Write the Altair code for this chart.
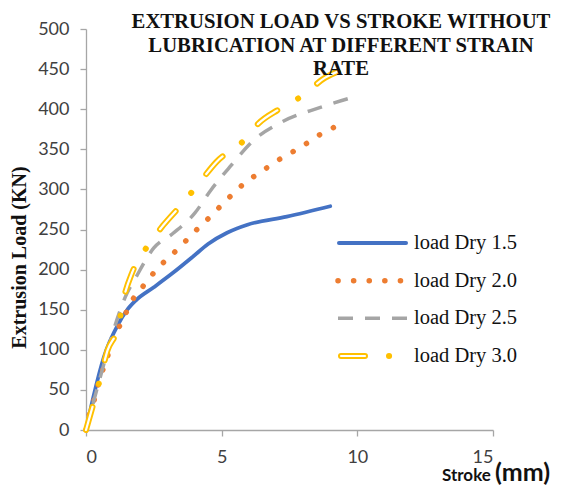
import altair as alt
import pandas as pd

# ---------------- data ----------------
series_names = ["load Dry 1.5", "load Dry 2.0", "load Dry 2.5", "load Dry 3.0"]

dry15_x = [0, 0.27, 0.66, 1.19, 1.5, 1.85, 2.5, 3.17, 3.9, 4.5, 5.2, 5.95, 7.4, 9.0]
dry15_y = [0, 41, 91, 132, 149, 162, 178, 195, 215, 232, 246, 256, 266, 279]

dry20_x = [0, 0.13, 0.29, 0.44, 0.6, 0.78, 0.94, 1.17, 1.43, 1.69, 2.01, 2.35, 2.74, 3.11,
           3.52, 3.9, 4.31, 4.72, 5.1, 5.49, 5.92, 6.37, 6.84, 7.3, 7.78, 8.25, 8.7, 9.25]
dry20_y = [0, 20, 36, 55, 73, 90, 109, 125, 143, 161, 175, 190, 205, 217,
           230, 244, 257, 271, 284, 297, 310, 320, 331, 341, 350, 360, 370, 379]

dry25_x = [0, 0.3, 0.6, 1.05, 1.45, 1.85, 2.5, 3.2, 4.0, 4.6, 5.3, 6.2, 7.1, 8.7, 9.85]
dry25_y = [0, 38, 75, 128, 166, 191, 227, 245, 270, 299, 328, 362, 382, 403, 415]

dry30_x = [0, 0.25, 0.53, 0.79, 1.19, 1.39, 1.71, 2.24, 2.84, 3.57, 4.17, 4.80, 5.85, 6.35,
           7.12, 7.94, 8.8, 9.72]
dry30_y = [0, 30, 65, 99, 129, 164, 197, 228, 255, 283, 308, 334, 362, 382,
           400, 416, 439, 452]

x_ticks = [0, 5, 10, 15]
y_ticks = [0, 50, 100, 150, 200, 250, 300, 350, 400, 450, 500]

title_lines = ["EXTRUSION LOAD VS STROKE WITHOUT",
               "LUBRICATION AT DIFFERENT STRAIN",
               "RATE"]

# ---------------- tables ----------------
rows = []
for name, xs, ys in zip(series_names,
                        [dry15_x, dry20_x, dry25_x, dry30_x],
                        [dry15_y, dry20_y, dry25_y, dry30_y]):
    for i, (xv, yv) in enumerate(zip(xs, ys)):
        rows.append({"series": name, "stroke": xv, "load": yv, "i": i})
df = pd.DataFrame(rows)
leg_df = pd.DataFrame({"label": series_names})

BLUE, ORANGE, GRAY, YELLOW = "#4472C4", "#ED7D31", "#A5A5A5", "#FFC000"
AXIS_COLOR = "#A6A6A6"
LABEL_FONT = "Lato"
SERIF = "Liberation Serif"

xscale = alt.Scale(domain=[0, 15], nice=False)
yscale = alt.Scale(domain=[0, 500], nice=False)

x_enc = alt.X("stroke:Q", scale=xscale,
              axis=alt.Axis(values=x_ticks, title=None, grid=False,
                            labelFont=LABEL_FONT, labelFontSize=18, labelColor="#404040",
                            labelPadding=12, tickSize=6, domainColor=AXIS_COLOR,
                            tickColor=AXIS_COLOR, domainWidth=1.3, tickWidth=1.3))
y_enc = alt.Y("load:Q", scale=yscale,
              axis=alt.Axis(values=y_ticks, title="Extrusion Load (KN)", grid=False,
                            labelFont=LABEL_FONT, labelFontSize=18, labelColor="#404040",
                            labelPadding=11, tickSize=6, domainColor=AXIS_COLOR,
                            tickColor=AXIS_COLOR, domainWidth=1.3, tickWidth=1.3,
                            titleFont=SERIF, titleFontSize=20, titleFontWeight="bold",
                            titleColor="#111111", titleAngle=270, titleAlign="center",
                            titleBaseline="middle", titleX=-67, titleY=228))

base = alt.Chart(df)


def series_line(name, color, width, dash=None, cap="butt"):
    kw = dict(interpolate="monotone", color=color, strokeWidth=width, strokeCap=cap)
    if dash is not None:
        kw["strokeDash"] = dash
    ch = base.transform_filter(alt.datum.series == name).mark_line(**kw)
    return ch.encode(x=x_enc, y=y_enc, order="i:Q")


l15 = series_line(series_names[0], BLUE, 3.8, cap="round")
l20 = series_line(series_names[1], ORANGE, 5.5, dash=[0.1, 15.5], cap="round")
l25 = series_line(series_names[2], GRAY, 3.5, dash=[15, 12])
l30a = series_line(series_names[3], YELLOW, 6, dash=[24, 24, 0.1, 24], cap="round")
l30b = series_line(series_names[3], "white", 2.2, dash=[24, 48.1], cap="round")

data_layer = alt.layer(l15, l20, l25, l30a, l30b)

# ---------------- legend (its own point scale for rows) ----------------
leg_y = alt.Y("label:N", scale=alt.Scale(type="point", domain=series_names,
                                         range=[214, 327], padding=0), axis=None)
leg_base = alt.Chart(leg_df)


def leg_rule(name, x1, x2, color, width, dash=None, cap="butt"):
    kw = dict(color=color, strokeWidth=width, strokeCap=cap)
    if dash is not None:
        kw["strokeDash"] = dash
    return leg_base.transform_filter(alt.datum.label == name).mark_rule(**kw).encode(
        x=alt.value(x1), x2=alt.value(x2), y=leg_y)


leg = alt.layer(
    leg_rule(series_names[0], 253, 320, BLUE, 4, cap="round"),
    leg_rule(series_names[1], 252, 316, ORANGE, 5.5, dash=[0.1, 15.5], cap="round"),
    leg_rule(series_names[2], 252, 321, GRAY, 3.5, dash=[15, 12]),
    leg_rule(series_names[3], 255, 308, YELLOW, 6, dash=[24, 24, 0.1, 24], cap="round"),
    leg_rule(series_names[3], 255, 308, "white", 2.2, dash=[24, 48.1], cap="round"),
    leg_base.mark_text(align="left", baseline="middle", font=SERIF, fontSize=20.5,
                       color="#111111").encode(x=alt.value(328), y=leg_y, text="label:N"),
)

# ---------------- texts ----------------
title_text = alt.Chart(leg_df.head(1)).mark_text(
    align="center", baseline="alphabetic", font=SERIF, fontSize=20.7, fontWeight="bold",
    color="#111111", lineHeight=23.5
).encode(x=alt.value(255), y=alt.value(-1), text=alt.value(title_lines))

stroke_text = alt.Chart(leg_df.head(1)).mark_text(
    align="left", baseline="alphabetic", font=LABEL_FONT, fontSize=17, fontWeight="bold",
    color="#111111"
).encode(x=alt.value(356), y=alt.value(452), text=alt.value("Stroke"))

mm_text = alt.Chart(leg_df.head(1)).mark_text(
    align="left", baseline="alphabetic", font=LABEL_FONT, fontSize=25, fontWeight="bold",
    color="#111111"
).encode(x=alt.value(409), y=alt.value(452), text=alt.value("(mm)"))

chart = alt.layer(data_layer, leg, title_text, stroke_text, mm_text).resolve_scale(
    y="independent"
).properties(
    width=407, height=401,
    autosize=alt.AutoSizeParams(type="none"),
    padding={"left": 78, "top": 21, "right": 64, "bottom": 55},
).configure_view(stroke=None)

chart.save("out.html", embed_options={"renderer": "svg", "actions": False})
